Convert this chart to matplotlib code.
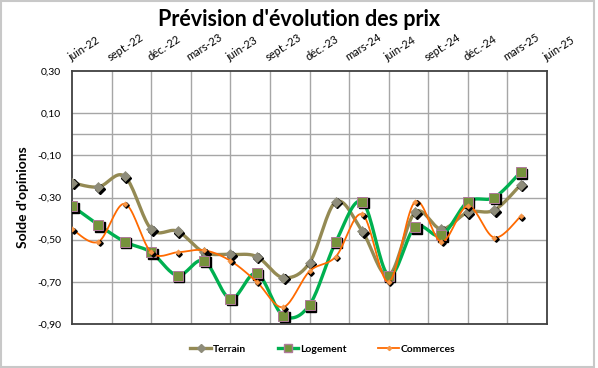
import numpy as np
import matplotlib
matplotlib.use("Agg")
import matplotlib.pyplot as plt
from matplotlib import transforms
from matplotlib.lines import Line2D

plt.rcParams['font.family'] = ['Lato', 'DejaVu Sans']

# ---- data ----
months = list(range(0, 36, 2))  # bimonthly surveys, June 2022 -> April 2025
tick_labels = ["juin-22", "sept.-22", "déc.-22", "mars-23", "juin-23", "sept.-23",
               "déc.-23", "mars-24", "juin-24", "sept.-24", "déc.-24", "mars-25", "juin-25"]
terrain = [-0.23, -0.25, -0.20, -0.45, -0.46, -0.56, -0.57, -0.58, -0.68, -0.61,
           -0.32, -0.46, -0.67, -0.37, -0.45, -0.37, -0.36, -0.24]
logement = [-0.34, -0.43, -0.51, -0.56, -0.67, -0.60, -0.78, -0.66, -0.86, -0.81,
            -0.51, -0.32, -0.67, -0.44, -0.48, -0.32, -0.30, -0.18]
commerces = [-0.45, -0.51, -0.33, -0.56, -0.56, -0.55, -0.60, -0.70, -0.82, -0.65,
             -0.58, -0.38, -0.70, -0.32, -0.51, -0.34, -0.49, -0.39]
series_names = ["Terrain", "Logement", "Commerces"]


def smooth(x, y, n=20):
    x = np.asarray(x, float)
    y = np.asarray(y, float)
    P = np.column_stack([x, y])
    out = [P[0]]
    for i in range(len(P) - 1):
        p0 = P[i - 1] if i > 0 else P[i]
        p1 = P[i]
        p2 = P[i + 1]
        p3 = P[i + 2] if i + 2 < len(P) else P[i + 1]
        c1 = p1 + (p2 - p0) / 6.0
        c2 = p2 - (p3 - p1) / 6.0
        t = np.linspace(0, 1, n)[1:, None]
        seg = ((1 - t) ** 3) * p1 + 3 * ((1 - t) ** 2) * t * c1 + 3 * (1 - t) * t ** 2 * c2 + t ** 3 * p2
        out.extend(seg)
    out = np.array(out)
    return out[:, 0], out[:, 1]


fig = plt.figure(figsize=(5.98, 3.68), dpi=100)
ax = fig.add_axes([72 / 598, 1 - 324 / 368, 475 / 598, 253 / 368])

ax.set_xlim(0, 36)
ax.set_ylim(-0.9, 0.3)
yt = [-0.9, -0.7, -0.5, -0.3, -0.1, 0.1, 0.3]
ax.set_yticks(yt)
ax.set_yticklabels([f"{v:.2f}".replace(".", ",") for v in yt], fontsize=7.5)
ax.set_xticks(range(0, 37, 3))
ax.set_xticklabels(tick_labels, fontsize=8, rotation=33, ha='left', va='bottom',
                   rotation_mode='anchor')
ax.xaxis.tick_top()
ax.tick_params(axis='both', length=0)
ax.tick_params(axis='x', pad=6)
ax.tick_params(axis='y', pad=8)

for xv in range(3, 36, 3):
    ax.axvline(xv, color='#A6A6A6', lw=1.0, zorder=1)
for yv in [0.1, 0.0, -0.1, -0.3, -0.5, -0.7]:
    ax.axhline(yv, color='#A6A6A6', lw=1.0, zorder=1)

for s in ax.spines.values():
    s.set_color('#404040')
    s.set_linewidth(1.3)

shadow_tr = transforms.offset_copy(ax.transData, fig=fig, x=1.6, y=-1.6, units='dots')

styles = [
    dict(color='#948A54', lw=2.4, marker='D', ms=5.3, mfc='#8E8C7A', mec='#8E8C7A', mew=0.5),
    dict(color='#00B050', lw=2.4, marker='s', ms=7.3, mfc='#76923C', mec='#B07A9A', mew=0.7),
    dict(color='#FF6A00', lw=1.3, marker='D', ms=2.8, mfc='#F79646', mec='#F79646', mew=0.3),
]
data = [terrain, logement, commerces]

handles = []
for k, (vals, st) in enumerate(zip(data, styles)):
    xs, ys = smooth(months, vals)
    ax.plot(xs, ys, color=st['color'], lw=st['lw'], zorder=3 + k * 3, solid_capstyle='round')
    ax.plot(months, vals, ls='none', marker=st['marker'], ms=st['ms'], mfc='black', mec='black',
            transform=shadow_tr, zorder=4 + k * 3)
    ax.plot(months, vals, ls='none', marker=st['marker'], ms=st['ms'], mfc=st['mfc'],
            mec=st['mec'], mew=st['mew'], zorder=5 + k * 3)
    handles.append(Line2D([], [], color=st['color'], lw=st['lw'], marker=st['marker'],
                          ms=st['ms'] * 0.75, mfc=st['mfc'], mec=st['mec']))

ax.set_ylabel("Solde d'opinions", fontsize=10, fontweight='bold', labelpad=6)

fig.text(0.5, 1 - 20 / 368, "Prévision d'évolution des prix", ha='center', va='center',
         fontsize=15.5, fontweight='bold')

leg = fig.legend(handles, series_names, loc='center', bbox_to_anchor=(0.54, 1 - 349 / 368),
                 ncol=3, frameon=False, handlelength=2.0, handletextpad=0.2,
                 columnspacing=3.0, prop={'weight': 'bold', 'size': 7.5})

fig.patches.append(plt.Rectangle((0.002, 0.003), 0.992, 0.994, transform=fig.transFigure,
                                 fill=False, edgecolor='#C8C8C8', lw=1.5))

fig.savefig("out.png", dpi=100)
